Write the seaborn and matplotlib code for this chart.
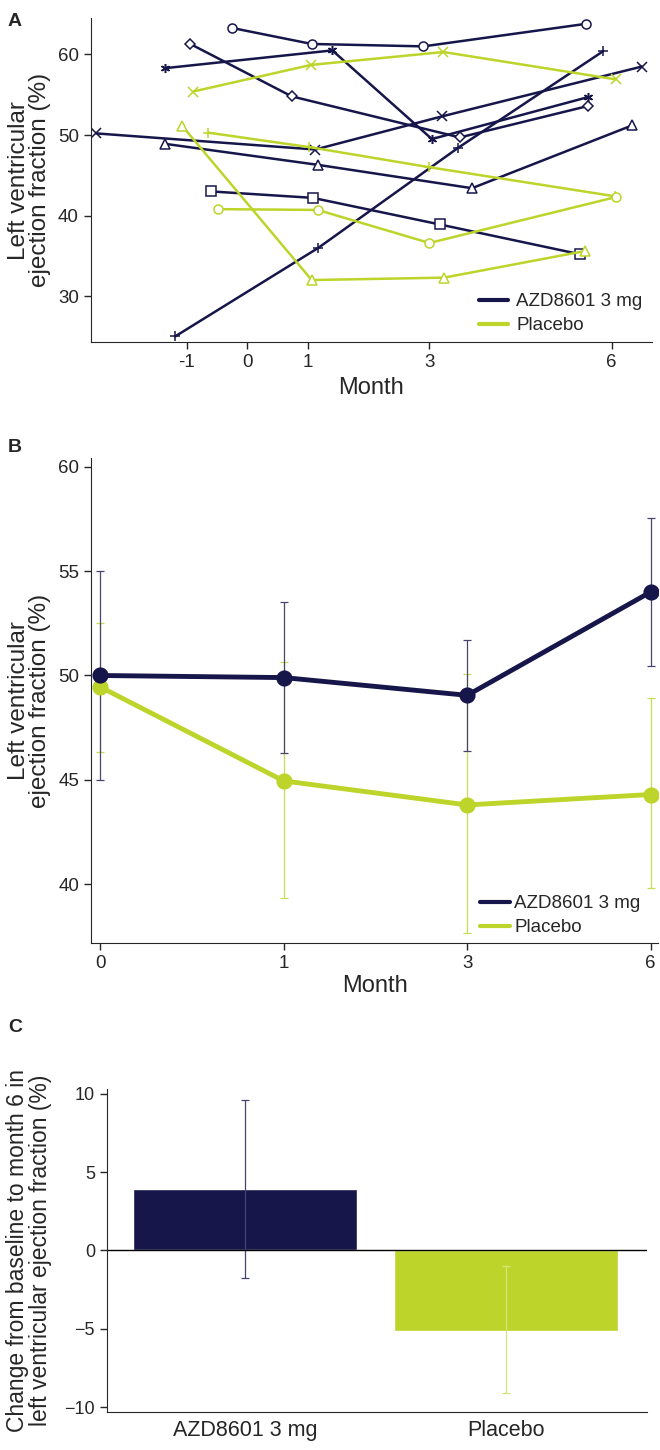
import numpy as np
import pandas as pd
import matplotlib
matplotlib.use('Agg')
import matplotlib.pyplot as plt
import seaborn as sns
from matplotlib.lines import Line2D

sns.set_style('ticks')
plt.rcParams['font.family'] = ['Liberation Sans', 'DejaVu Sans']

NAVY = '#16164b'
GREEN = '#bdd42a'

# ---- A: individual patients (month, LVEF %) ----
azd_circle_x = [-0.26, 1.06, 2.90, 5.58]
azd_circle_y = [63.3, 61.3, 61.0, 63.8]
azd_star_x = [-1.35, 1.40, 3.04, 5.61]
azd_star_y = [58.3, 60.5, 49.5, 54.7]
azd_diamond_x = [-0.94, 0.73, 3.50, 5.61]
azd_diamond_y = [61.3, 54.8, 49.7, 53.6]
azd_cross_x = [-2.49, 1.12, 3.20, 6.50]
azd_cross_y = [50.2, 48.2, 52.3, 58.5]
azd_tri_x = [-1.35, 1.16, 3.70, 6.34]
azd_tri_y = [48.9, 46.3, 43.4, 51.2]
azd_square_x = [-0.60, 1.08, 3.17, 5.48]
azd_square_y = [43.0, 42.2, 38.9, 35.2]
azd_plus_x = [-1.19, 1.17, 3.47, 5.86]
azd_plus_y = [25.0, 36.0, 48.4, 60.4]

pbo_cross_x = [-0.89, 1.05, 3.23, 6.07]
pbo_cross_y = [55.4, 58.7, 60.3, 56.9]
pbo_plus_x = [-0.65, 1.02, 3.00, 6.05]
pbo_plus_y = [50.3, 48.5, 46.0, 42.4]
pbo_circle_x = [-0.49, 1.16, 3.00, 6.07]
pbo_circle_y = [40.8, 40.7, 36.6, 42.3]
pbo_tri_x = [-1.07, 1.06, 3.24, 5.56]
pbo_tri_y = [51.1, 32.0, 32.3, 35.6]

a_xticks = [-1, 0, 1, 3, 6]

# ---- B: mean LVEF with 95% CI ----
b_months = ['0', '1', '3', '6']
b_azd_mean = [50.0, 49.9, 49.05, 54.0]
b_azd_lo = [45.0, 46.3, 46.4, 50.45]
b_azd_hi = [55.0, 53.5, 51.7, 57.55]
b_pbo_mean = [49.45, 44.95, 43.8, 44.3]
b_pbo_lo = [46.35, 39.35, 37.65, 39.8]
b_pbo_hi = [52.5, 50.65, 50.05, 48.9]

# ---- C: change from baseline to month 6 ----
c_groups = ['AZD8601 3 mg', 'Placebo']
c_change = [3.94, -5.15]
c_lo = [-1.75, -9.13]
c_hi = [9.6, -1.0]

pal = {'AZD8601 3 mg': NAVY, 'Placebo': GREEN}
ylab = 'Left ventricular\nejection fraction (%)'

fig = plt.figure(figsize=(6.6, 14.5), dpi=100)

# panel A
axA = fig.add_axes([0.1374, 0.7639, 0.85, 0.2234])
series = [
    (azd_circle_x, azd_circle_y, NAVY, 'o'),
    (azd_star_x, azd_star_y, NAVY, (6, 2, 0)),
    (azd_diamond_x, azd_diamond_y, NAVY, 'D'),
    (azd_cross_x, azd_cross_y, NAVY, 'x'),
    (azd_tri_x, azd_tri_y, NAVY, '^'),
    (azd_square_x, azd_square_y, NAVY, 's'),
    (azd_plus_x, azd_plus_y, NAVY, '+'),
    (pbo_cross_x, pbo_cross_y, GREEN, 'x'),
    (pbo_plus_x, pbo_plus_y, GREEN, '+'),
    (pbo_circle_x, pbo_circle_y, GREEN, 'o'),
    (pbo_tri_x, pbo_tri_y, GREEN, '^'),
]
for xs, ys, col, mk in series:
    sns.lineplot(x=xs, y=ys, color=col, marker=mk, markersize=6.5 if mk != 'D' else 5,
                 markerfacecolor='white', markeredgecolor=col, markeredgewidth=1.1,
                 linewidth=1.8, sort=False, estimator=None, ax=axA)
axA.set_xlim(-2.58, 6.66)
axA.set_ylim(24.27, 64.47)
axA.set_xticks(a_xticks)
axA.set_xticklabels([str(t) for t in a_xticks])
axA.set_yticks([30, 40, 50, 60])
axA.tick_params(labelsize=13.5, length=5, width=1)
axA.set_xlabel('Month', fontsize=17, labelpad=4)
axA.set_ylabel(ylab, fontsize=17.5, linespacing=0.95)
axA.yaxis.set_label_coords(-0.07, 0.5)
hA = [Line2D([], [], color=NAVY, lw=3), Line2D([], [], color=GREEN, lw=3)]
axA.legend(hA, c_groups, loc='lower left', bbox_to_anchor=(0.668, -0.015), frameon=False,
           fontsize=13.5, handlelength=1.55, handletextpad=0.45, labelspacing=0.35, borderpad=0.2)
sns.despine(ax=axA)
fig.text(0.012, 0.991, 'A', fontsize=14, fontweight='bold', va='top')

# panel B
axB = fig.add_axes([0.138, 0.3494, 0.859, 0.3345])
dfB = pd.DataFrame({
    'month': b_months * 2,
    'lvef': b_azd_mean + b_pbo_mean,
    'group': ['AZD8601 3 mg'] * 4 + ['Placebo'] * 4,
})
sns.pointplot(data=dfB, x='month', y='lvef', hue='group', order=b_months,
              hue_order=['Placebo', 'AZD8601 3 mg'], palette=pal, errorbar=None,
              markers='o', markersize=9, linewidth=3.5, legend=False, ax=axB)
pos = np.arange(len(b_months))
bm, bl, bh = np.array(b_pbo_mean), np.array(b_pbo_lo), np.array(b_pbo_hi)
axB.errorbar(pos, bm, yerr=[bm - bl, bh - bm], fmt='none', ecolor='#c9dd55',
             elinewidth=0.9, capsize=3, capthick=0.9, zorder=1)
am, al, ah = np.array(b_azd_mean), np.array(b_azd_lo), np.array(b_azd_hi)
axB.errorbar(pos, am, yerr=[am - al, ah - am], fmt='none', ecolor='#45456f',
             elinewidth=0.9, capsize=3, capthick=0.9, zorder=1)
axB.set_xlim(-0.05, 3.04)
axB.set_ylim(37.17, 60.4)
axB.set_yticks([40, 45, 50, 55, 60])
axB.tick_params(labelsize=13.5, length=5, width=1)
axB.set_xlabel('Month', fontsize=17, labelpad=2)
axB.set_ylabel(ylab, fontsize=17.5, linespacing=0.95)
axB.yaxis.set_label_coords(-0.07, 0.5)
hB = [Line2D([], [], color=NAVY, lw=3), Line2D([], [], color=GREEN, lw=3)]
axB.legend(hB, c_groups, loc='lower left', bbox_to_anchor=(0.662, -0.012), frameon=False,
           fontsize=13.5, handlelength=1.6, handletextpad=0.25,
           labelspacing=0.35, borderpad=0.2)
sns.despine(ax=axB)
fig.text(0.012, 0.697, 'B', fontsize=14, fontweight='bold', va='top')

# panel C
axC = fig.add_axes([0.162, 0.0264, 0.818, 0.2223])
sns.barplot(x=c_groups, y=c_change, hue=c_groups, palette=pal, width=0.86,
            saturation=1, errorbar=None, legend=False, ax=axC)
cm, cl, ch = np.array(c_change), np.array(c_lo), np.array(c_hi)
axC.errorbar([0], cm[:1], yerr=[cm[:1] - cl[:1], ch[:1] - cm[:1]], fmt='none',
             ecolor='#45456f', elinewidth=0.9, capsize=3, capthick=0.9)
axC.errorbar([1], cm[1:], yerr=[cm[1:] - cl[1:], ch[1:] - cm[1:]], fmt='none',
             ecolor='#d6e57a', elinewidth=0.9, capsize=3, capthick=0.9)
axC.axhline(0, color='black', lw=1)
axC.set_xlim(-0.53, 1.54)
axC.set_ylim(-10.3, 10.28)
axC.set_yticks([-10, -5, 0, 5, 10])
axC.tick_params(axis='y', labelsize=13, length=5, width=1)
axC.tick_params(axis='x', labelsize=15.5, length=0, pad=6)
axC.set_ylabel('Change from baseline to month 6 in\nleft ventricular ejection fraction (%)',
               fontsize=16.5, linespacing=1.0)
axC.yaxis.set_label_coords(-0.102, 0.5)
sns.despine(ax=axC)
fig.text(0.012, 0.297, 'C', fontsize=14, fontweight='bold', va='top')

fig.savefig('out.png', dpi=100)
